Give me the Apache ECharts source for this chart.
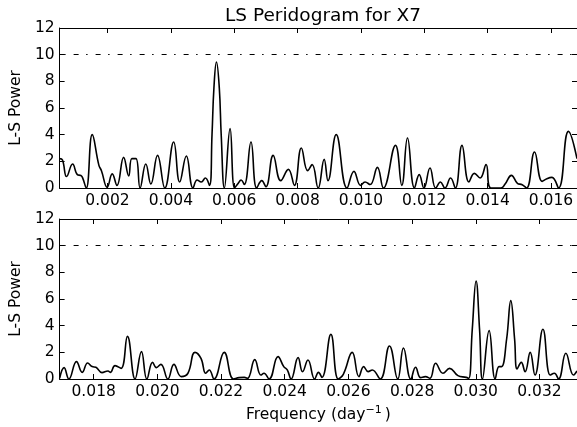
<!DOCTYPE html>
<html>
<head>
<meta charset="utf-8">
<script src="https://cdn.jsdelivr.net/npm/echarts@6/dist/echarts.min.js"></script>
<style>
  html, body { margin: 0; padding: 0; background: #fff; }
  #chart { width: 577px; height: 427px; }
</style>
</head>
<body>
<div id="chart"></div>
<script>
// Lomb-Scargle periodogram of X7, split into a low and a high frequency band.
const topFreq = [
  0.00049, 0.00058, 0.00071, 0.00090, 0.00105, 0.00116, 0.00121, 0.00133, 0.00152, 0.00173,
  0.00181, 0.00199, 0.00215, 0.00230, 0.00251, 0.00267, 0.00277, 0.00290, 0.00303, 0.00321,
  0.00337, 0.00358, 0.00381, 0.00409, 0.00428, 0.00449, 0.00470, 0.00483, 0.00496, 0.00509,
  0.00522, 0.00530, 0.00536, 0.00544, 0.00553, 0.00559, 0.00569, 0.00587, 0.00601, 0.00611,
  0.00622, 0.00632, 0.00653, 0.00671, 0.00687, 0.00700, 0.00723, 0.00747, 0.00771, 0.00790,
  0.00812, 0.00832, 0.00846, 0.00865, 0.00884, 0.00896, 0.00922, 0.00956, 0.00978, 0.00999,
  0.01013, 0.01029, 0.01052, 0.01071, 0.01109, 0.01129, 0.01147, 0.01169, 0.01184, 0.01199,
  0.01218, 0.01236, 0.01251, 0.01265, 0.01283, 0.01298, 0.01319, 0.01341, 0.01358, 0.01376,
  0.01395, 0.01410, 0.01442, 0.01455, 0.01475, 0.01494, 0.01509, 0.01523, 0.01548, 0.01572,
  0.01587, 0.01603, 0.01624, 0.01655, 0.01682
];
const topPower = [
  2.2, 2.1, 0.86, 1.8, 1.0, 0.94, 0.8, 0.0, 4.0, 1.7,
  1.3, 0.05, 1.06, 0.2, 2.3, 0.9, 2.2, 2.2, 0.0, 1.8,
  0.3, 2.45, 0.0, 3.45, 0.45, 2.4, 0.0, 0.6, 0.45, 0.75,
  0.2, 4.0, 7.5, 9.45, 7.5, 4.0, 0.0, 4.45, 0.0, 0.3,
  0.6, 0.26, 3.45, 0.0, 0.55, 0.1, 2.45, 0.55, 1.4, 0.2,
  3.0, 1.3, 1.75, 0.0, 2.15, 0.55, 4.0, 0.0, 1.25, 0.2,
  0.45, 0.26, 1.55, 0.0, 3.2, 0.2, 3.75, 0.0, 1.0, 0.0,
  1.5, 0.0, 0.45, 0.0, 0.75, 0.0, 3.2, 0.45, 1.1, 0.75,
  1.75, 0.0, 0.0, 0.3, 0.95, 0.35, 0.25, 0.0, 2.7, 0.5,
  0.7, 0.8, 0.0, 4.25, 2.2
];

const bottomFreq = [
  0.01693, 0.01707, 0.01722, 0.01746, 0.01764, 0.01781, 0.01795, 0.01807, 0.01826, 0.01845,
  0.01852, 0.01867, 0.01886, 0.01906, 0.01930, 0.01950, 0.01967, 0.01985, 0.01997, 0.02011,
  0.02033, 0.02052, 0.02075, 0.02096, 0.02118, 0.02137, 0.02152, 0.02163, 0.02178, 0.02210,
  0.02239, 0.02257, 0.02273, 0.02283, 0.02306, 0.02325, 0.02335, 0.02351, 0.02379, 0.02397,
  0.02408, 0.02420, 0.02442, 0.02456, 0.02473, 0.02494, 0.02506, 0.02517, 0.02545, 0.02568,
  0.02584, 0.02612, 0.02633, 0.02648, 0.02662, 0.02675, 0.02700, 0.02729, 0.02755, 0.02773,
  0.02796, 0.02811, 0.02827, 0.02842, 0.02856, 0.02874, 0.02897, 0.02918, 0.02944, 0.02970,
  0.02978, 0.02989, 0.03001, 0.03012, 0.03021, 0.03042, 0.03061, 0.03073, 0.03081, 0.03097,
  0.03110, 0.03122, 0.03130, 0.03143, 0.03155, 0.03171, 0.03186, 0.03211, 0.03234, 0.03247,
  0.03260, 0.03283, 0.03307, 0.03318
];
const bottomPower = [
  0.05, 0.85, 0.0, 1.3, 0.5, 1.2, 0.93, 0.88, 0.48, 0.6,
  0.5, 1.0, 0.8, 3.2, 0.0, 2.05, 0.0, 1.25, 0.85, 1.1,
  0.0, 1.1, 0.18, 0.43, 2.0, 1.55, 0.43, 0.68, 0.0, 2.0,
  0.0, 0.1, 0.12, 0.05, 1.45, 0.3, 0.43, 0.0, 1.68, 0.93,
  0.68, 0.0, 1.6, 0.55, 1.43, 0.0, 0.5, 0.12, 3.35, 0.0,
  0.35, 2.0, 0.18, 0.93, 0.55, 0.68, 0.0, 2.48, 0.0, 2.33,
  0.0, 0.88, 0.1, 0.18, 0.05, 1.18, 0.43, 0.8, 0.25, 0.12,
  0.05, 3.7, 7.35, 3.7, 0.0, 3.63, 0.0, 0.93, 0.93, 3.0,
  5.88, 3.0, 0.75, 1.25, 0.55, 2.0, 0.3, 3.73, 0.3, 0.43,
  0.0, 1.93, 0.3, 0.6
];

const topRange = [0.00049, 0.01682];
const bottomRange = [0.01693, 0.03318];
const topTicks = [0.002, 0.004, 0.006, 0.008, 0.010, 0.012, 0.014, 0.016];
const bottomTicks = [0.018, 0.020, 0.022, 0.024, 0.026, 0.028, 0.030, 0.032];
const powerTicks = [0, 2, 4, 6, 8, 10, 12];
const threshold = 10;

const FONT = 'DejaVu Sans';
const SIZE = 15.5;
const black = '#000';

function pairs(xs, ys) { return xs.map((x, i) => [x, ys[i]]); }

function xAxes(gridIndex, range, ticks, withName) {
  const base = {
    type: 'value', gridIndex, min: range[0], max: range[1],
    splitLine: { show: false },
    axisLine: { show: true, onZero: false, lineStyle: { color: black, width: 1 } },
    axisTick: { show: true, inside: true, length: 5, customValues: ticks, lineStyle: { color: black, width: 1 } }
  };
  const bottom = Object.assign({}, base, {
    position: 'bottom',
    axisLabel: {
      show: true, customValues: ticks, margin: 5,
      color: black, fontFamily: FONT, fontSize: SIZE,
      formatter: v => v.toFixed(3)
    }
  });
  if (withName) {
    Object.assign(bottom, {
      name: 'Frequency (day{sup|\u22121})',
      nameLocation: 'middle', nameGap: 26,
      nameTextStyle: {
        color: black, fontFamily: FONT, fontSize: SIZE,
        rich: { sup: { fontFamily: FONT, fontSize: 11, verticalAlign: 'top', padding: [0, 3, 9, 0] } }
      }
    });
  }
  const top = Object.assign({}, base, { position: 'top', axisLabel: { show: false } });
  return [bottom, top];
}

function yAxes(gridIndex) {
  const base = {
    type: 'value', gridIndex, min: 0, max: 12,
    splitLine: { show: false },
    axisLine: { show: true, onZero: false, lineStyle: { color: black, width: 1 } },
    axisTick: { show: true, inside: true, length: 5, customValues: powerTicks, lineStyle: { color: black, width: 1 } }
  };
  const left = Object.assign({}, base, {
    position: 'left',
    name: 'L-S Power', nameLocation: 'middle', nameGap: 27,
    nameTextStyle: { color: black, fontFamily: FONT, fontSize: SIZE },
    axisLabel: { show: true, customValues: powerTicks, margin: 5, color: black, fontFamily: FONT, fontSize: SIZE }
  });
  const right = Object.assign({}, base, { position: 'right', axisLabel: { show: false } });
  return [left, right];
}

function powerSeries(xi, yi, data) {
  return {
    type: 'line', xAxisIndex: xi, yAxisIndex: yi, data,
    smooth: 0.45, symbol: 'none', clip: true,
    lineStyle: { color: black, width: 1.6 },
    markLine: {
      silent: true, symbol: ['none', 'none'], label: { show: false },
      lineStyle: { color: black, width: 1, type: [5, 7.5, 1.5, 8], dashOffset: 8 },
      data: [{ yAxis: threshold }]
    }
  };
}

const chart = echarts.init(document.getElementById('chart'), null, { renderer: 'canvas' });
chart.setOption({
  animation: false,
  backgroundColor: '#fff',
  title: {
    text: 'LS Peridogram for X7', left: 318, top: 2, textAlign: 'center',
    textStyle: { color: black, fontFamily: FONT, fontSize: 18.5, fontWeight: 'normal' }
  },
  grid: [
    { left: 55, top: 28, width: 522, height: 160 },
    { left: 55, top: 219, width: 522, height: 160 }
  ],
  xAxis: [
    ...xAxes(0, topRange, topTicks, false),
    ...xAxes(1, bottomRange, bottomTicks, true)
  ],
  yAxis: [...yAxes(0), ...yAxes(1)],
  series: [
    powerSeries(0, 0, pairs(topFreq, topPower)),
    powerSeries(2, 2, pairs(bottomFreq, bottomPower))
  ]
});
</script>
</body>
</html>
